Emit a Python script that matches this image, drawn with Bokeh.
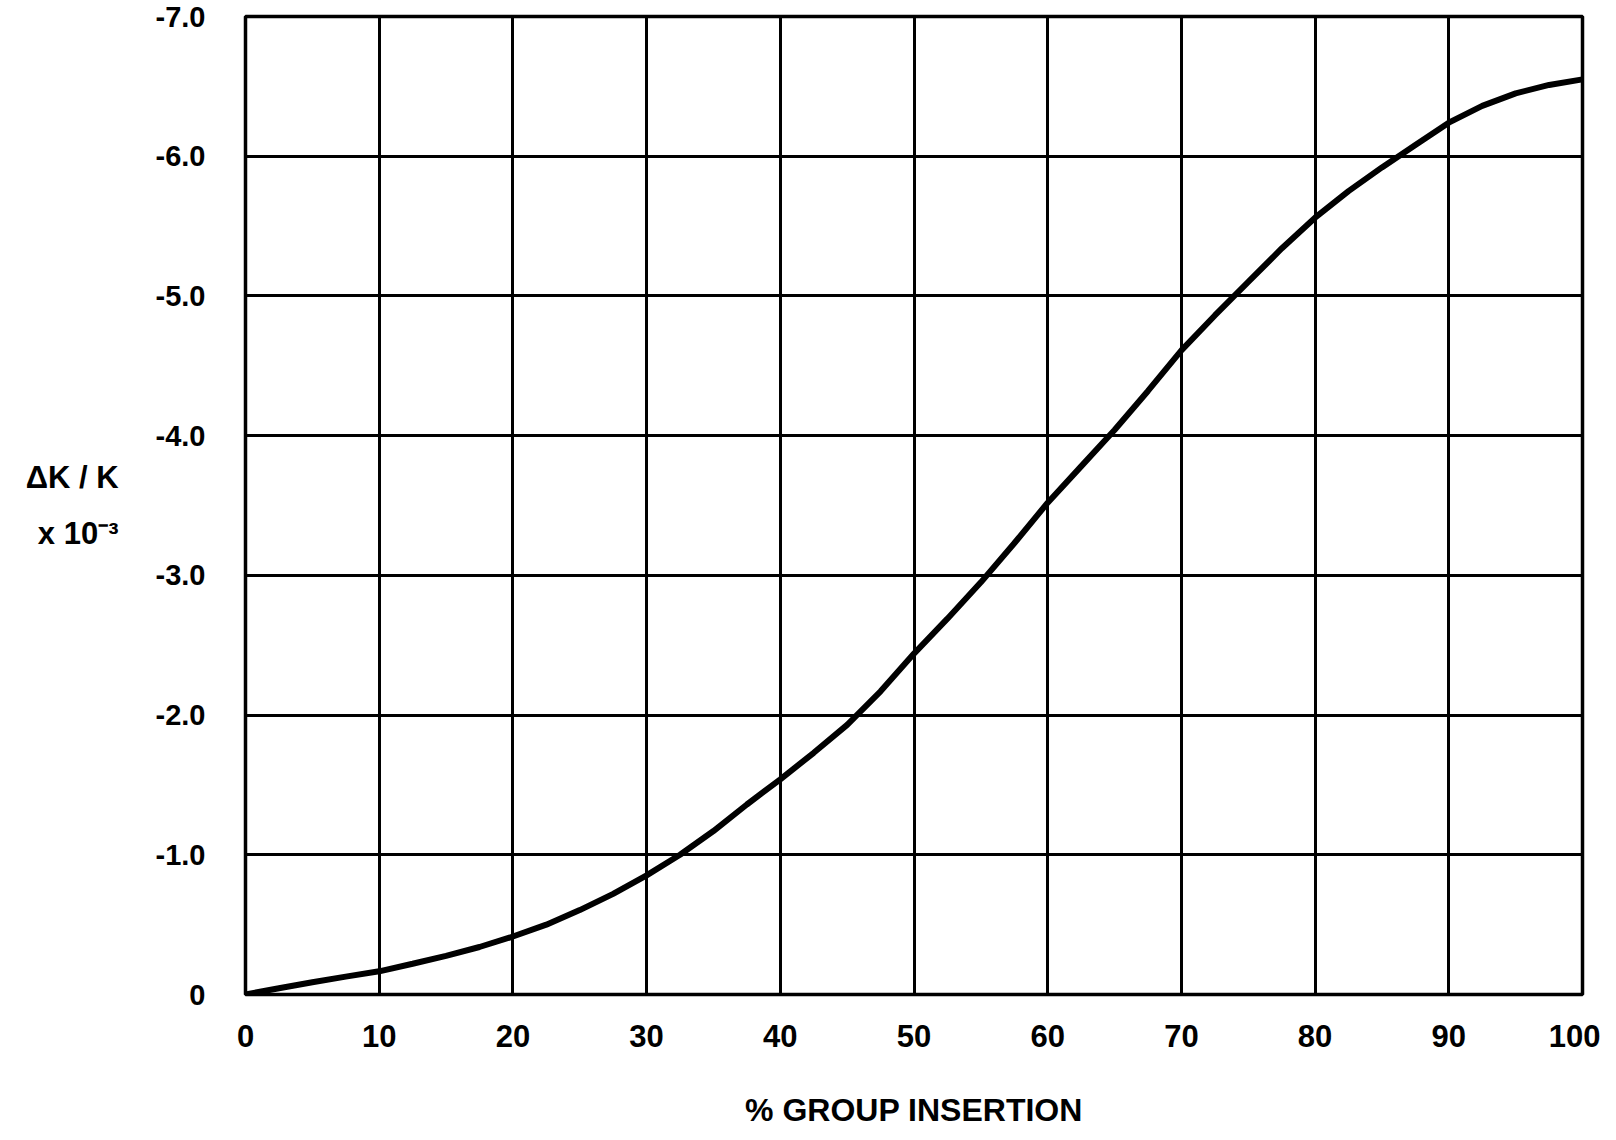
from bokeh.plotting import figure
from bokeh.models import Range1d, FixedTicker
from bokeh.embed import file_html
from bokeh.resources import INLINE

# data
insertion_pct = [0, 2.5, 5, 7.5, 10, 12.5, 15, 17.5, 20, 22.5, 25, 27.5, 30, 32.5, 35, 37.5, 40,
                 42.5, 45, 47.5, 50, 52.5, 55, 57.5, 60, 62.5, 65, 67.5, 70, 72.5, 75, 77.5, 80,
                 82.5, 85, 87.5, 90, 92.5, 95, 97.5, 100]
dk_over_k = [0, -0.045, -0.088, -0.128, -0.166, -0.22, -0.277, -0.34, -0.415, -0.50, -0.604,
             -0.72, -0.853, -1.0, -1.17, -1.36, -1.54, -1.73, -1.93, -2.17, -2.44, -2.69, -2.95,
             -3.23, -3.52, -3.78, -4.04, -4.32, -4.61, -4.86, -5.10, -5.34, -5.56, -5.75, -5.92,
             -6.08, -6.24, -6.36, -6.45, -6.51, -6.55]
x_ticks = [0, 10, 20, 30, 40, 50, 60, 70, 80, 90, 100]
y_ticks = [0, -1, -2, -3, -4, -5, -6, -7]
y_tick_labels = ["0", "-1.0", "-2.0", "-3.0", "-4.0", "-5.0", "-6.0", "-7.0"]
x_title = "% GROUP INSERTION"
y_title = "\u0394K / K\nx 10\u207b\u00b3"

FONT = "Liberation Sans"

p = figure(width=1600, height=1130, output_backend="svg", toolbar_location=None,
           x_range=Range1d(0, 100), y_range=Range1d(0, -7),
           min_border_left=245, min_border_right=18, min_border_top=16, min_border_bottom=136)
p.background_fill_color = "white"
p.border_fill_color = "white"
p.outline_line_color = "black"
p.outline_line_width = 3.5

for ax in (p.xaxis[0], p.yaxis[0]):
    ax.axis_line_color = None
    ax.major_tick_line_color = None
    ax.minor_tick_line_color = None
    ax.major_label_text_font = FONT
    ax.major_label_text_font_style = "bold"
    ax.major_label_text_color = "black"
    ax.axis_label_text_font = FONT
    ax.axis_label_text_font_style = "bold"
    ax.axis_label_text_color = "black"

p.xaxis[0].ticker = FixedTicker(ticks=x_ticks)
p.xaxis[0].major_label_text_font_size = "31px"
p.xaxis[0].major_label_standoff = 24
p.xaxis[0].axis_label = x_title
p.xaxis[0].axis_label_text_font_size = "32px"
p.xaxis[0].axis_label_standoff = 42

p.yaxis[0].ticker = FixedTicker(ticks=y_ticks)
p.yaxis[0].major_label_overrides = {t: l for t, l in zip(y_ticks, y_tick_labels)}
p.yaxis[0].major_label_text_font_size = "29px"
p.yaxis[0].major_label_standoff = 34
p.yaxis[0].axis_label = y_title
p.yaxis[0].axis_label_orientation = "horizontal"
p.yaxis[0].axis_label_text_font_size = "31px"
p.yaxis[0].axis_label_text_line_height = 1.6
p.yaxis[0].axis_label_standoff = 34

p.xgrid.ticker = FixedTicker(ticks=x_ticks)
p.ygrid.ticker = FixedTicker(ticks=y_ticks)
for g in (p.xgrid[0], p.ygrid[0]):
    g.grid_line_color = "black"
    g.grid_line_width = 3
    g.grid_line_alpha = 1.0

p.line(insertion_pct, dk_over_k, line_color="black", line_width=6)

open("out.html", "w").write(file_html(p, INLINE))
